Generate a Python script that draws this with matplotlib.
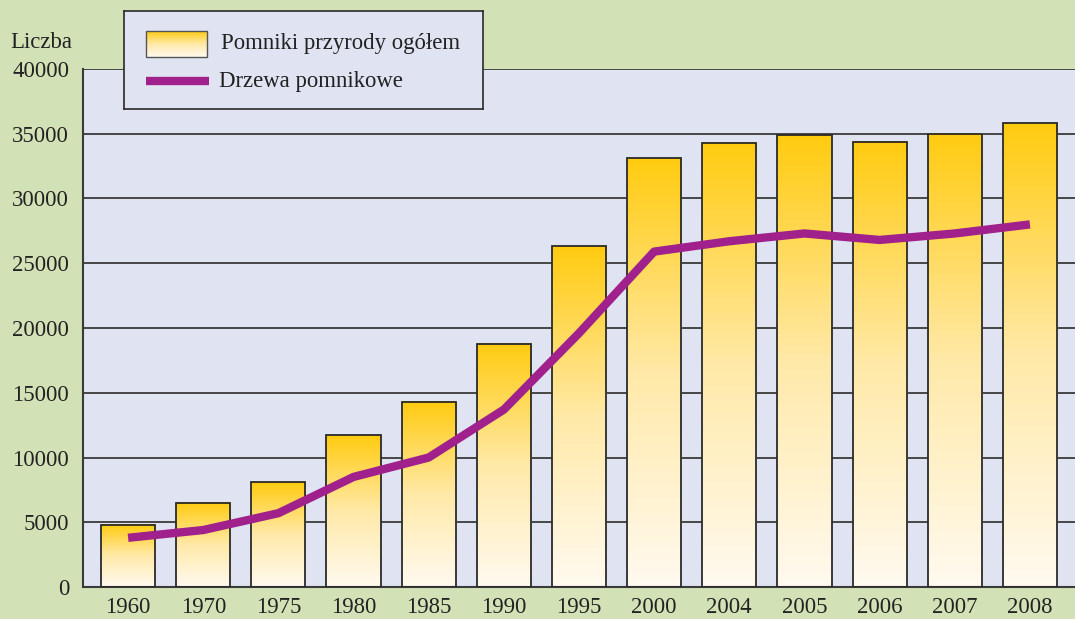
import matplotlib
matplotlib.use("Agg")
import matplotlib.pyplot as plt
import numpy as np
from matplotlib.colors import LinearSegmentedColormap

years = ["1960", "1970", "1975", "1980", "1985", "1990", "1995", "2000",
         "2004", "2005", "2006", "2007", "2008"]
pomniki = [4800, 6500, 8100, 11700, 14300, 18800, 26300, 33100,
           34300, 34900, 34400, 35000, 35800]
drzewa = [3800, 4400, 5700, 8500, 10000, 13700, 19600, 25900,
          26700, 27300, 26800, 27300, 28000]
yticks = [0, 5000, 10000, 15000, 20000, 25000, 30000, 35000, 40000]

BG = "#d3e2b6"
PLOT_BG = "#e0e3f1"
LINE_C = "#a0208c"
cmap = LinearSegmentedColormap.from_list("g", ["#fffaf0", "#ffe9a8", "#ffcb10"])
grad = np.linspace(0, 1, 256).reshape(-1, 1)

plt.rcParams['font.family'] = ['Liberation Serif', 'DejaVu Serif']
FS = 16.4

fig = plt.figure(figsize=(10.75, 6.19), dpi=100, facecolor=BG)
ax = fig.add_axes([83/1075, 32/619, 1 - 83/1075, (587-69)/619])
ax.set_facecolor(PLOT_BG)

x = np.arange(len(years))
w = 0.72

for yv in yticks[1:]:
    ax.axhline(yv, color="#3a3a3a", lw=1.3, zorder=1)

for xi, h in zip(x, pomniki):
    ax.imshow(grad, extent=[xi - w/2, xi + w/2, 0, h], origin="lower",
              cmap=cmap, aspect="auto", zorder=2)
bars = ax.bar(x, pomniki, width=w, facecolor="none", edgecolor="#2a2a2a",
              lw=1.3, zorder=3)
ax.set_xlim(-0.6, 12.6)
ax.set_ylim(0, 40000)

ax.plot(x, drzewa, color=LINE_C, lw=6, zorder=4, solid_capstyle="butt")

ax.set_xticks(x)
ax.set_xticklabels(years, fontsize=FS)
ax.set_yticks(yticks)
ax.set_yticklabels([str(v) for v in yticks], fontsize=FS)
ax.tick_params(length=0, colors="#222222")
ax.tick_params(axis="y", pad=10)
ax.tick_params(axis="x", pad=7)
for s in ["top", "right"]:
    ax.spines[s].set_visible(False)
for s in ["left", "bottom"]:
    ax.spines[s].set_color("#3a3a3a")
    ax.spines[s].set_linewidth(1.5)

fig.text(41/1075, 1 - 42/619, "Liczba", fontsize=FS, ha="center", va="center",
         color="#222222")

# legend box
lax = fig.add_axes([124/1075, 1 - 109/619, 359/1075, 98/619])
lax.set_facecolor(PLOT_BG)
lax.set_xticks([])
lax.set_yticks([])
for s in lax.spines.values():
    s.set_color("#2a2a2a")
    s.set_linewidth(1.2)
lax.imshow(grad[::-1], extent=[22, 83, 46, 20], origin="upper", cmap=cmap,
           aspect="auto", zorder=2)
lax.add_patch(plt.Rectangle((22, 20), 61, 26, fill=False, edgecolor="#555555",
                            lw=1.0, zorder=3))
lax.set_xlim(0, 359)
lax.set_ylim(98, 0)
lax.plot([22, 85], [70, 70], color=LINE_C, lw=6, solid_capstyle="butt")
lax.text(97, 33, "Pomniki przyrody ogółem", fontsize=FS, va="center",
         color="#222222")
lax.text(95, 70, "Drzewa pomnikowe", fontsize=FS, va="center", color="#222222")

fig.savefig("out.png", dpi=100, facecolor=BG)
